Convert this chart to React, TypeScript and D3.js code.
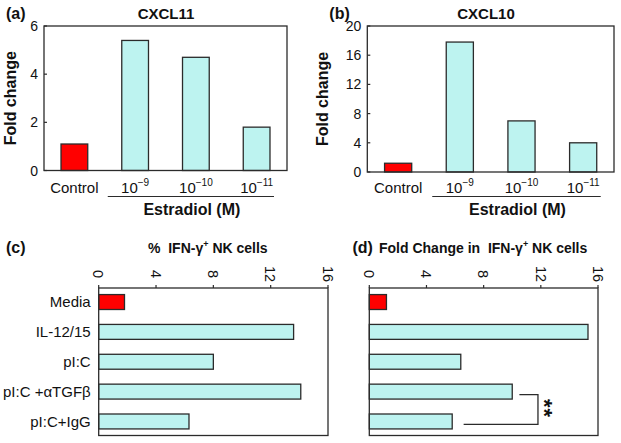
import React from 'react';
import * as d3 from 'd3';

// panel (a) / (b): CXCL11 and CXCL10 fold change
const estradiolGroups = ['Control', '-9', '-10', '-11'];
const cxcl11Values = [1.1, 5.4, 4.7, 1.8];
const cxcl10Values = [1.2, 17.8, 7.0, 4.0];
const cxcl11Ticks = [0, 2, 4, 6];
const cxcl10Ticks = [0, 4, 8, 12, 16, 20];

// panel (c) / (d): IFN-gamma+ NK cells
const nkGroups = ['Media', 'IL-12/15', 'pI:C', 'pI:C +\u03b1TGF\u03b2', 'pI:C+IgG'];
const nkPercent = [1.8, 13.6, 8.0, 14.1, 6.3];
const nkFold = [1.2, 15.3, 6.4, 10.0, 5.8];
const nkTicks = [0, 4, 8, 12, 16];

const RED = '#ff0000';
const CYAN = '#bdf3f0';
const INK = '#2b2b2b';
const FONT = '"Liberation Sans", Arial, sans-serif';

type VProps = {
  left: number; right: number; top: number; bottom: number;
  values: number[]; ticks: number[]; max: number;
  letter: string; title: string; titleX: number; yTitleX: number;
};

const VerticalPanel = ({ left, right, top, bottom, values, ticks, max, letter, title, titleX, yTitleX }: VProps) => {
  const x = d3.scaleBand<string>().domain(estradiolGroups).range([left, right]).paddingInner(0.56).paddingOuter(0.28);
  const y = d3.scaleLinear().domain([0, max]).range([bottom, top]);
  const lineX0 = (x(estradiolGroups[1]) ?? 0) - 14;
  const lineX1 = (x(estradiolGroups[3]) ?? 0) + x.bandwidth() + 4;
  return (
    <g fontFamily={FONT} fill="#111">
      <text x={left - 38} y={19} fontSize={16} fontWeight="bold">{letter}</text>
      <text x={titleX} y={18.5} fontSize={15} fontWeight="bold" textAnchor="middle">{title}</text>
      <text transform={`translate(${yTitleX},${(top + bottom) / 2}) rotate(-90)`} fontSize={16} fontWeight="bold" textAnchor="middle">Fold change</text>
      {values.map((v, i) => (
        <rect key={i} x={x(estradiolGroups[i])} y={y(v)} width={x.bandwidth()} height={bottom - y(v)}
          fill={i === 0 ? RED : CYAN} stroke={INK} strokeWidth={1.3} />
      ))}
      <rect x={left} y={top} width={right - left} height={bottom - top} fill="none" stroke={INK} strokeWidth={1.3} />
      {ticks.map(t => (
        <g key={t}>
          <line x1={left} x2={left + 3} y1={y(t)} y2={y(t)} stroke={INK} strokeWidth={1.2} />
          <text x={left - 6} y={y(t)} dy="0.36em" fontSize={14} textAnchor="end">{t}</text>
        </g>
      ))}
      {estradiolGroups.map((g, i) => {
        const cx = (x(g) ?? 0) + x.bandwidth() / 2;
        return i === 0 ? (
          <text key={g} x={cx} y={192.5} fontSize={15} textAnchor="middle">{g}</text>
        ) : (
          <text key={g} x={cx} y={192.5} fontSize={15} textAnchor="middle">
            10<tspan fontSize={10} dy={-7}>{'\u2212' + g.slice(1)}</tspan>
          </text>
        );
      })}
      <line x1={lineX0} x2={lineX1} y1={196.5} y2={196.5} stroke={INK} strokeWidth={1.2} />
      <text x={(lineX0 + lineX1) / 2 + 1} y={215} fontSize={16} fontWeight="bold" textAnchor="middle">Estradiol (M)</text>
    </g>
  );
};

type HProps = {
  left: number; right: number; top: number; bottom: number;
  values: number[]; showLabels: boolean; children?: React.ReactNode;
};

const HorizontalPanel = ({ left, right, top, bottom, values, showLabels, children }: HProps) => {
  const x = d3.scaleLinear().domain([0, 16]).range([left, right]);
  const y = d3.scaleBand<string>().domain(nkGroups).range([top, bottom]).paddingInner(0.5).paddingOuter(0.22);
  return (
    <g fontFamily={FONT} fill="#111">
      {values.map((v, i) => (
        <rect key={i} x={left} y={y(nkGroups[i])} width={x(v) - left} height={y.bandwidth()}
          fill={i === 0 ? RED : CYAN} stroke={INK} strokeWidth={1.3} />
      ))}
      <rect x={left} y={top} width={right - left} height={bottom - top} fill="none" stroke={INK} strokeWidth={1.3} />
      {nkTicks.map(t => (
        <g key={t}>
          <line x1={x(t)} x2={x(t)} y1={top} y2={top - 3} stroke={INK} strokeWidth={1.2} />
          <text transform={`translate(${x(t)},274) rotate(90)`} dy="0.36em" fontSize={14.5} textAnchor="middle">{t}</text>
        </g>
      ))}
      {showLabels && nkGroups.map(g => (
        <text key={g} x={left - 8} y={(y(g) ?? 0) + y.bandwidth() / 2} dy="0.36em" fontSize={15} textAnchor="end">{g}</text>
      ))}
      {children}
    </g>
  );
};

const App = () => {
  // bracket for ** in panel (d), placed in data units through the panel's scales
  const dLeft = 369.3, dRight = 598, dTop = 288, dBottom = 435.5;
  const dx = d3.scaleLinear().domain([0, 16]).range([dLeft, dRight]);
  const dy = d3.scaleBand<string>().domain(nkGroups).range([dTop, dBottom]).paddingInner(0.5).paddingOuter(0.22);
  const yA = (dy(nkGroups[3]) ?? 0) + dy.bandwidth() / 2 + 3;
  const yB = (dy(nkGroups[4]) ?? 0) + dy.bandwidth() / 2 + 3;
  const xJoin = dx(11.8);
  return (
    <svg width={621} height={443} style={{ position: 'absolute', left: 0, top: 0, background: '#fff' }}>
      <rect width={621} height={443} fill="#fff" />
      <VerticalPanel left={44} right={287} top={26} bottom={170.5} values={cxcl11Values} ticks={cxcl11Ticks} max={6}
        letter="(a)" title="CXCL11" titleX={166} yTitleX={16} />
      <VerticalPanel left={367.3} right={614} top={26} bottom={172} values={cxcl10Values} ticks={cxcl10Ticks} max={20}
        letter="(b)" title="CXCL10" titleX={486} yTitleX={327.5} />

      <HorizontalPanel left={98.7} right={328} top={288} bottom={435.5} values={nkPercent} showLabels />
      <g fontFamily={FONT} fill="#111" fontWeight="bold">
        <text x={6} y={253} fontSize={16}>(c)</text>
        <text x={148} y={253} fontSize={14}>%&#160;&#160;IFN-&#947;<tspan fontSize={9} dy={-6}>+</tspan><tspan dy={6}> NK cells</tspan></text>
      </g>

      <HorizontalPanel left={dLeft} right={dRight} top={dTop} bottom={dBottom} values={nkFold} showLabels={false}>
        <path d={`M${dx(10.5)},${yA}H${xJoin}V${yB}H${dx(6.6)}`} fill="none" stroke={INK} strokeWidth={1.3} />
        <text transform={`translate(${xJoin + 11},${(yA + yB) / 2 - 1}) rotate(90)`} dy="0.55em" fontSize={22}
          fontWeight="bold" textAnchor="middle" letterSpacing={1}>**</text>
      </HorizontalPanel>
      <g fontFamily={FONT} fill="#111" fontWeight="bold">
        <text x={352.5} y={253} fontSize={16}>(d)</text>
        <text x={379} y={253} fontSize={14}>Fold Change in&#160;&#160;IFN-&#947;<tspan fontSize={9} dy={-6}>+</tspan><tspan dy={6}> NK cells</tspan></text>
      </g>
    </svg>
  );
};

export default App;
